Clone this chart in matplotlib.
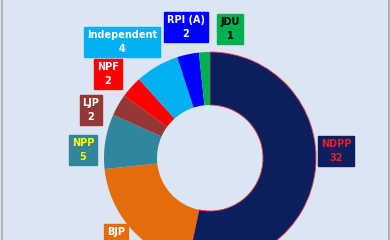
import matplotlib
matplotlib.use("Agg")
import matplotlib.pyplot as plt

parties = ["NDPP", "BJP", "NPP", "LJP", "NPF", "Independent", "RPI (A)", "JDU"]
seats = [32, 12, 5, 2, 2, 4, 2, 1]
colors = ["#0B1F5E", "#E46C0A", "#31859C", "#953735", "#FF0000", "#00B0F0", "#0000FF", "#00B050"]
text_colors = ["#E8202A", "white", "#FFFF00", "white", "white", "white", "white", "black"]
label_pos = [(336, 89), (116, 1), (83, 90), (91, 130), (108, 166), (122, 198), (186, 213), (230, 211)]

plt.rcParams['font.family'] = ['DejaVu Sans']

fig = plt.figure(figsize=(3.9, 2.4), dpi=100)
fig.patch.set_facecolor("#DCE6F2")
ax = fig.add_axes([0, 0, 1, 1])
ax.set_facecolor("#DCE6F2")

wedges, _ = ax.pie(seats, colors=colors, startangle=90, counterclock=False,
                   center=(210, 82), radius=106,
                   wedgeprops=dict(width=53, linewidth=0))
wedges[0].set_edgecolor("#E03A4A")
wedges[0].set_linewidth(0.6)

for name, val, tc, fc, (x, y) in zip(parties, seats, text_colors, colors, label_pos):
    ax.text(x, y, f"{name}\n{val}", ha="center", va="center", color=tc,
            fontsize=7, fontweight="bold", linespacing=1.45,
            bbox=dict(boxstyle="square,pad=0.3", facecolor=fc, edgecolor=fc))

ax.set_xlim(0, 390)
ax.set_ylim(0, 240)
ax.set_aspect("equal")
ax.axis("off")
ax.axvline(1.5, color="#A6A6A6", linewidth=1.2)
ax.axvline(388.5, color="#A6A6A6", linewidth=1.2)

fig.savefig("out.png", dpi=100, facecolor=fig.get_facecolor())
